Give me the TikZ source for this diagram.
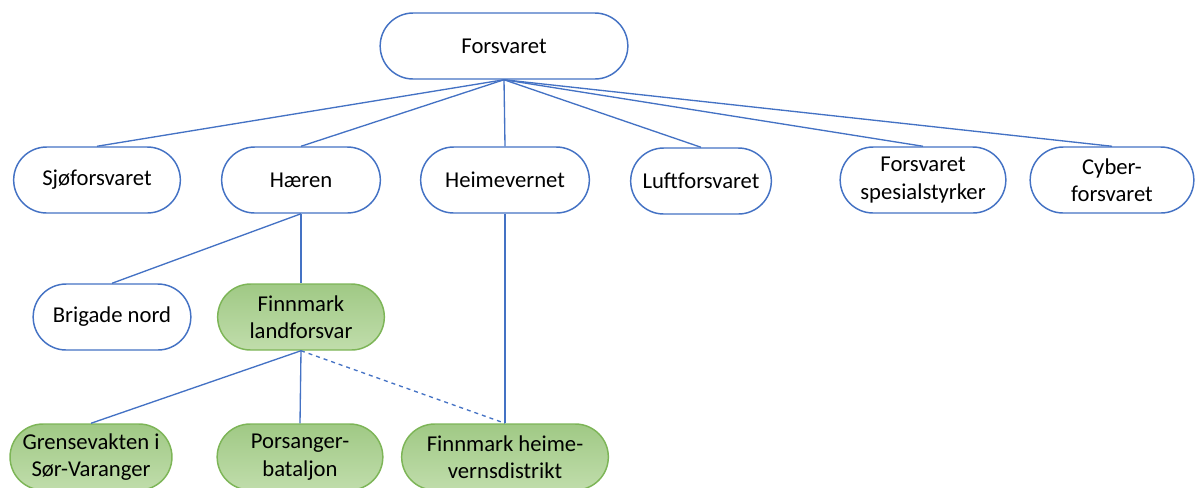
\documentclass[tikz,border=0pt]{standalone}
\usepackage{fontspec}
\setmainfont{Carlito}
\usetikzlibrary{shapes.misc}
\definecolor{orgblue}{HTML}{4472C4}
\definecolor{orggreen}{HTML}{7DB557}
\definecolor{greentop}{HTML}{A0C985}
\definecolor{greenbot}{HTML}{C0DDAB}
\tikzset{
  unit/.style={rounded rectangle, draw=orgblue, line width=1.1pt, fill=white,
    minimum height=49.5pt, inner xsep=2pt, align=center,
    font=\fontsize{17}{20.5}\selectfont},
  greenunit/.style={unit, draw=orggreen, top color=greentop, bottom color=greenbot},
  link/.style={draw=orgblue, line width=1pt}
}
\begin{document}
\begin{tikzpicture}[x=0.75pt, y=-0.75pt]
	\useasboundingbox (0,0) rectangle (1198,487);
	\clip (0,0) rectangle (1198,487);

	% top
	\node[unit, minimum width=189.75pt] (forsvaret) at (504,46) {Forsvaret};

	% branches
	\node[unit, minimum width=129pt] (sjo) at (97,180) {Sjøforsvaret};
	\node[unit, minimum width=123pt] (haeren) at (301,180) {Hæren};
	\node[unit, minimum width=130.5pt] (heimevernet) at (505,180) {Heimevernet};
	\node[unit, minimum width=109.5pt] (luft) at (701,181) {Luftforsvaret};
	\node[unit, minimum width=128.25pt] (fs) at (923,180) {Forsvaret\\spesialstyrker};
	\node[unit, minimum width=126.75pt] (cyber) at (1112,180) {Cyber-\\forsvaret};

	% under Hæren
	\node[unit, minimum width=122.25pt] (brigade) at (112,317) {Brigade nord};
	\node[greenunit, minimum width=129pt] (flf) at (301,317) {Finnmark\\landforsvar};

	% bottom row
	\node[greenunit, minimum width=120.75pt] (gsv) at (91,457) {Grensevakten i\\Sør-Varanger};
	\node[greenunit, minimum width=128.25pt] (porsanger) at (300,457) {Porsanger-\\bataljon};
	\node[greenunit, minimum width=159pt] (fhv) at (505,457) {Finnmark heime-\\vernsdistrikt};

	% connectors
	\draw[link] (forsvaret.south) -- (sjo.north);
	\draw[link] (forsvaret.south) -- (haeren.north);
	\draw[link] (forsvaret.south) -- (heimevernet.north);
	\draw[link] (forsvaret.south) -- (luft.north);
	\draw[link] (forsvaret.south) -- (fs.north);
	\draw[link] (forsvaret.south) -- (cyber.north);

	\draw[link] (haeren.south) -- (brigade.north);
	\draw[link] (haeren.south) -- (flf.north);
	\draw[link] (heimevernet.south) -- (fhv.north);

	\draw[link] (flf.south) -- (gsv.north);
	\draw[link] (flf.south) -- (porsanger.north);
	\draw[link, dashed] (flf.south) -- (fhv.north);

\end{tikzpicture}
\end{document}
